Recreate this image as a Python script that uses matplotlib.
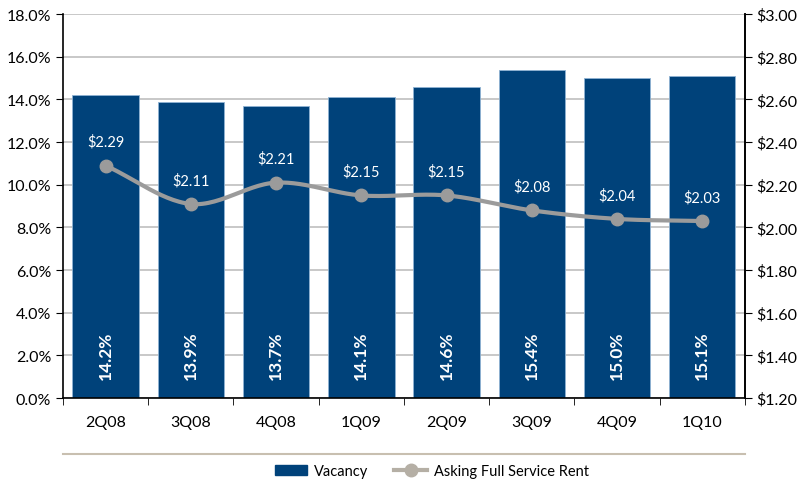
import numpy as np
import matplotlib
matplotlib.use("Agg")
import matplotlib.pyplot as plt
from matplotlib.lines import Line2D
from matplotlib.patches import Patch

plt.rcParams['font.family'] = ['Lato', 'DejaVu Sans']

quarters = ["2Q08", "3Q08", "4Q08", "1Q09", "2Q09", "3Q09", "4Q09", "1Q10"]
vacancy = [14.2, 13.9, 13.7, 14.1, 14.6, 15.4, 15.0, 15.1]
rent = [2.29, 2.11, 2.21, 2.15, 2.15, 2.08, 2.04, 2.03]

bar_color = "#00427A"
line_color = "#9B9B9B"

fig = plt.figure(figsize=(8.07, 4.85), dpi=100)
ax = fig.add_axes([0.078, 0.177, 0.845, 0.792])
x = np.arange(len(quarters))

ax.bar(x, vacancy, width=0.78, color=bar_color, edgecolor="#8FB3D3", linewidth=0.6, zorder=2)
ax.set_ylim(0, 18)
ax.set_xlim(-0.5, len(quarters) - 0.5)
ax.set_yticks(np.arange(0, 18.1, 2))
ax.set_yticklabels([f"{v:.1f}%" for v in np.arange(0, 18.1, 2)])
ax.yaxis.grid(True, color="#BFBFBF", linewidth=1.2, zorder=0)
ax.set_axisbelow(True)
ax.set_xticks(x)
ax.set_xticklabels(quarters)
ax.set_xticks(np.arange(-0.5, len(quarters), 1), minor=True)
ax.tick_params(axis='x', which='major', length=0, pad=12, labelsize=11.5)
ax.tick_params(axis='x', which='minor', length=5, direction='out', color='black')
ax.tick_params(axis='y', length=5, labelsize=11.5, color='black')
for s in ['top']:
    ax.spines[s].set_visible(False)
for s in ['left', 'bottom', 'right']:
    ax.spines[s].set_color('black')
    ax.spines[s].set_linewidth(1.2)

for xi, v in zip(x, vacancy):
    ax.text(xi, 2.05, f"{v:.1f}%", rotation=90, ha='center', va='center',
            color='white', fontsize=12.5, fontweight='bold', zorder=5)

ax2 = ax.twinx()
ax2.set_ylim(1.2, 3.0)
ax2.set_yticks(np.arange(1.2, 3.001, 0.2))
ax2.set_yticklabels([f"${v:.2f}" for v in np.arange(1.2, 3.001, 0.2)])
ax2.tick_params(axis='y', length=5, labelsize=11.5, color='black')
for s in ['top', 'left', 'bottom']:
    ax2.spines[s].set_visible(False)
ax2.spines['right'].set_color('black')
ax2.spines['right'].set_linewidth(1.2)

# smooth curve through data points (Catmull-Rom)
xr = np.array(x, dtype=float)
yr = np.array(rent)
px = np.concatenate([[2 * xr[0] - xr[1]], xr, [2 * xr[-1] - xr[-2]]])
py = np.concatenate([[2 * yr[0] - yr[1]], yr, [2 * yr[-1] - yr[-2]]])
sx, sy = [], []
t = np.linspace(0, 1, 30)
for i in range(1, len(px) - 2):
    p0, p1, p2, p3 = py[i - 1], py[i], py[i + 1], py[i + 2]
    q0, q1, q2, q3 = px[i - 1], px[i], px[i + 1], px[i + 2]
    cy = 0.5 * ((2 * p1) + (-p0 + p2) * t + (2 * p0 - 5 * p1 + 4 * p2 - p3) * t**2 + (-p0 + 3 * p1 - 3 * p2 + p3) * t**3)
    cx = 0.5 * ((2 * q1) + (-q0 + q2) * t + (2 * q0 - 5 * q1 + 4 * q2 - q3) * t**2 + (-q0 + 3 * q1 - 3 * q2 + q3) * t**3)
    sx.extend(cx); sy.extend(cy)
ax2.plot(sx, sy, color=line_color, linewidth=3, zorder=3)
ax2.plot(xr, yr, 'o', color=line_color, markersize=9, zorder=4)
for xi, v in zip(x, rent):
    ax2.annotate(f"${v:.2f}", (xi, v), xytext=(0, 12), textcoords='offset points',
                 ha='center', va='bottom', color='white', fontsize=10.5, zorder=5)

# separator line
fig.add_artist(Line2D([0.078, 0.923], [0.062, 0.062], color="#C8BFB0", linewidth=1.5,
                      transform=fig.transFigure))

handles = [Patch(facecolor=bar_color, edgecolor=bar_color, label="Vacancy"),
           Line2D([0], [0], color="#B5AFA5", linewidth=3, marker='o', markersize=9,
                  label="Asking Full Service Rent")]
fig.legend(handles=handles, loc='center', bbox_to_anchor=(0.535, 0.027), ncol=2,
           frameon=False, fontsize=10.5, handlelength=2.2, columnspacing=1.8,
           handletextpad=0.5)

fig.savefig("out.png", dpi=100)
